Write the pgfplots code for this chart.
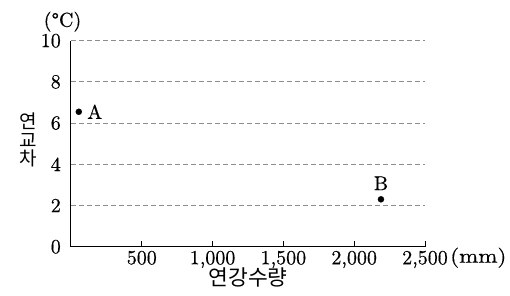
\documentclass[border=0pt]{standalone}
\usepackage{fontspec}
\setmainfont{lmroman10-regular.otf}[FakeBold=0.5]
\newfontfamily\mmfont{lmroman10-regular.otf}[FakeBold=0.5, FakeStretch=1.15]
\usepackage{pgfplots}
\pgfplotsset{compat=1.18}
\newfontfamily\kr{Noto Sans CJK KR}
\newcommand\numfont{\fontsize{20}{24}\selectfont}
\begin{document}
\begin{tikzpicture}[font=\numfont]
\useasboundingbox (-71pt,-49.3pt) rectangle (439pt,246.7pt);
\begin{axis}[
  at={(0pt,0pt)}, anchor=south west,
  scale only axis, width=354pt, height=206pt,
  xmin=0, xmax=2500, ymin=0, ymax=10,
  axis lines*=left,
  axis line style={line width=1pt, black},
  xtick={500,1000,1500,2000,2500},
  ytick={0,2,4,6,8,10},
  tick align=inside,
  major tick length=6pt,
  xtick style={line width=0.9pt, black},
  ytick style={draw=none},
  ymajorgrids,
  major grid style={dash pattern=on 5pt off 3pt, line width=0.8pt, color=black!45},
  /pgf/number format/assume math mode=true,
  /pgf/number format/1000 sep={,},
  ticklabel style={font=\numfont},
  xticklabel style={anchor=north, inner sep=0pt, yshift=-4pt},
  yticklabel style={anchor=east, inner sep=0pt, xshift=-10pt},
  clip=false,
]
\addplot[only marks, mark=*, mark size=3pt, black] coordinates {(55,6.55) (2189,2.3)};
\node[anchor=center, inner sep=0pt, font=\numfont] at (axis cs:55,6.55) [xshift=16pt] {A};
\node[anchor=center, inner sep=0pt, font=\numfont] at (axis cs:2189,2.3) [yshift=16pt] {B};
\node[anchor=west, inner sep=0pt, font=\mmfont\numfont] at (axis cs:2500,0) [xshift=25pt, yshift=-11pt] {(mm)};
\node[anchor=center, inner sep=0pt, font=\numfont] at (axis cs:0,10) [xshift=-8.5pt, yshift=19pt] {(°C)};
\node[anchor=center, inner sep=0pt, text height=0.8em, text depth=0.05em, font=\kr\fontsize{21.5}{26}\selectfont] at (axis cs:1250,0) [yshift=-35pt] {연강수량};
\node[anchor=center, inner sep=0pt, align=center, font=\kr\fontsize{19}{18.5}\selectfont] at (axis cs:0,5) [xshift=-43pt, yshift=3.7pt] {연\\교\\차};
\end{axis}
\end{tikzpicture}
\end{document}
